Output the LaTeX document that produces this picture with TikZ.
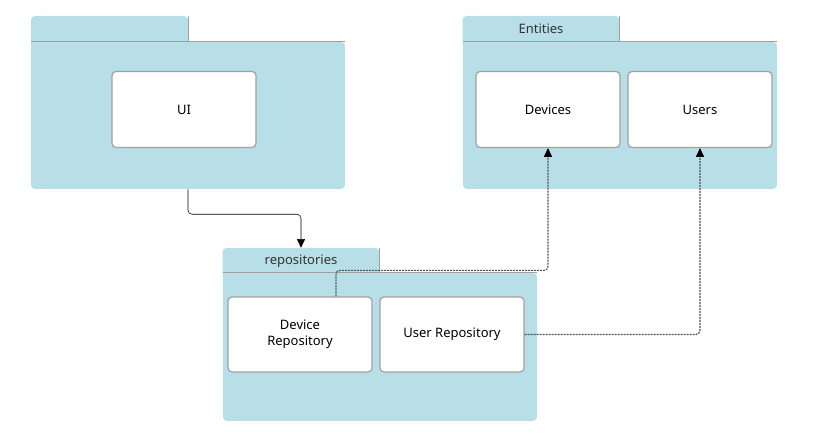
\documentclass[tikz,border=0pt]{standalone}
\usepackage{fontspec}
\setmainfont{Noto Sans}
\usetikzlibrary{arrows.meta}
\definecolor{pkgblue}{HTML}{B8DEE8}
\definecolor{pkgline}{HTML}{A0A0A0}
\definecolor{dashgray}{HTML}{505050}
\tikzset{
x=0.75pt, y=-0.75pt,
font=\fontsize{9.75}{12}\selectfont,
pkgbody/.style={fill=pkgblue, rounded corners=3pt, minimum width=235.5pt, minimum height=110.25pt, inner sep=0pt},
pkgtab/.style={fill=pkgblue, rounded corners=3pt, minimum width=117.75pt, minimum height=24pt, inner sep=0pt},
comp/.style={draw=pkgline, line width=0.9pt, fill=white, rounded corners=3pt, minimum width=108pt, minimum height=57pt, align=center, inner sep=0pt},
uses/.style={-{Triangle[width=6pt,length=6.5pt]}, rounded corners=3pt},
realizes/.style={-{Triangle[width=6pt,length=6.5pt,black]}, dashgray, line width=0.85pt, dash pattern=on 1.5pt off 0.75pt, rounded corners=3pt},
}

\begin{document}
\begin{tikzpicture}
        \useasboundingbox (0,0) rectangle (836,445);

        % packages
        \node[pkgtab] (uiTab) at (109.5,32) {};
        \node[pkgbody] (uiPkg) at (188,115.5) {};
        \node[pkgtab] (entTab) at (541,32) {};
        \node[pkgbody] (entPkg) at (620,115.5) {};
        \node[pkgtab] (repoTab) at (301,264) {};
        \node[pkgbody, minimum height=111pt] (repoPkg) at (380,347) {};
        \node[text=black!80] at (541,29) {Entities};
        \node[text=black!80] at (301,261) {repositories};

        \foreach \p/\t in {uiPkg/uiTab, entPkg/entTab, repoPkg/repoTab} {
            \draw[pkgline, line width=1.1pt] (\p.north west) -- (\p.north east);
            \draw[pkgline, line width=0.9pt] (\t.north east) -- (\t.east |- \p.north);
        }

        % components
        \node[comp] (ui) at (184,109.5) {UI};
        \node[comp] (devices) at (548,109.5) {Devices};
        \node[comp] (users) at (700,109.5) {Users};
        \node[comp, minimum height=56.25pt] (devRepo) at (300,334.5) {Device\\Repository};
        \node[comp, minimum height=56.25pt] (userRepo) at (452,334.5) {User Repository};

        % dependencies
        \draw[uses] (uiPkg.south) -- ++(0,25) -| (repoTab.north);
        \draw[realizes] ([xshift=27pt]devRepo.north) -- ++(0,-26) -| (devices.south);
        \draw[realizes] (userRepo.east) -| (users.south);
    \end{tikzpicture}
\end{document}
